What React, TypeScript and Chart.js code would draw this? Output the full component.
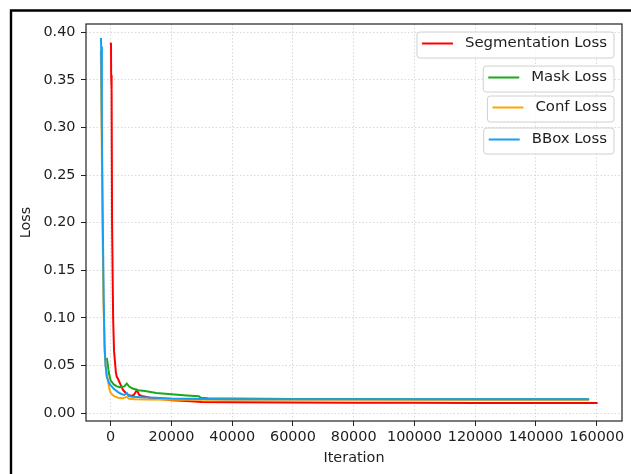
import React, { useEffect, useRef } from 'react';
import { Chart, registerables } from 'chart.js';

Chart.register(...registerables);

// ---- data ----
const xTickValues = [0, 20000, 40000, 60000, 80000, 100000, 120000, 140000, 160000];
const yTickValues = [0, 0.05, 0.1, 0.15, 0.2, 0.25, 0.3, 0.35, 0.4];

const seriesNames = ['Segmentation Loss', 'Mask Loss', 'Conf Loss', 'BBox Loss'];
const seriesColors = ['#ff0000', '#1aa81a', '#ffa500', '#179ef2'];

const segIter = [0, 100, 150, 300, 450, 800, 1100, 1700, 2000, 2400, 3200, 4100, 5000, 5800, 7000, 7600, 8600, 9400, 10200, 13000, 16000, 20000, 25000, 30000, 40000, 60000, 80000, 100000, 120000, 140000, 160300];
const segLoss = [0.389, 0.386, 0.355, 0.34, 0.2, 0.1, 0.065, 0.043, 0.038, 0.036, 0.03, 0.024, 0.021, 0.019, 0.018, 0.019, 0.024, 0.019, 0.018, 0.016, 0.015, 0.0135, 0.0125, 0.0115, 0.0112, 0.011, 0.0108, 0.0107, 0.0106, 0.0105, 0.0105];

const maskIter = [-1300, -1000, -600, 0, 1000, 2000, 3000, 4500, 5300, 6000, 7000, 9000, 11300, 15000, 20000, 25000, 29000, 29700, 32000, 40000, 60000, 80000, 100000, 120000, 140000, 157500];
const maskLoss = [0.058, 0.052, 0.042, 0.034, 0.030, 0.028, 0.027, 0.028, 0.031, 0.028, 0.026, 0.024, 0.023, 0.021, 0.0198, 0.0185, 0.0175, 0.016, 0.0156, 0.0152, 0.0147, 0.0146, 0.0145, 0.0145, 0.0145, 0.0145];

const confIter = [-3250, -3000, -2700, -2400, -2000, -1500, -1000, -500, 0, 1000, 2400, 4000, 5300, 6000, 8000, 12000, 20000, 40000, 60000, 80000, 100000, 120000, 140000, 157500];
const confLoss = [0.38, 0.3, 0.2, 0.12, 0.065, 0.045, 0.036, 0.026, 0.021, 0.018, 0.016, 0.0155, 0.017, 0.015, 0.0145, 0.0142, 0.014, 0.0139, 0.0139, 0.0139, 0.0139, 0.0139, 0.0139, 0.0139];

const bboxIter = [-3200, -3150, -2900, -2600, -2300, -2000, -1700, -1300, -600, 0, 1200, 2400, 3500, 4500, 5300, 5900, 7000, 10000, 15000, 20000, 30000, 40000, 60000, 80000, 100000, 120000, 140000, 157500];
const bboxLoss = [0.394, 0.385, 0.3, 0.2, 0.12, 0.07, 0.05, 0.038, 0.032, 0.029, 0.025, 0.022, 0.02, 0.019, 0.021, 0.018, 0.017, 0.0165, 0.016, 0.0153, 0.0148, 0.0145, 0.0144, 0.0144, 0.0144, 0.0144, 0.0144, 0.0144];

const seriesIters = [segIter, maskIter, confIter, bboxIter];
const seriesLosses = [segLoss, maskLoss, confLoss, bboxLoss];

const FONT = 'DejaVu Sans';
const FS = 14.4;
const LEGEND_FS = 14.9;
const TEXT = '#1e1e1e';

const framePlugin = {
  id: 'framePlugin',
  afterDraw(chart: any) {
    const { ctx, chartArea } = chart;
    const { left, top, right, bottom } = chartArea;
    ctx.save();
    // axes frame
    ctx.strokeStyle = '#222';
    ctx.lineWidth = 1.2;
    ctx.strokeRect(left, top, right - left, bottom - top);

    // outer figure border
    ctx.strokeStyle = '#000';
    ctx.lineWidth = 2.4;
    ctx.beginPath();
    ctx.moveTo(11, 474);
    ctx.lineTo(11, 10.5);
    ctx.lineTo(631, 10.5);
    ctx.stroke();

    // legends (four separate boxes)
    const offsets = [8, 42, 72, 104];
    ctx.font = `${LEGEND_FS}px "${FONT}"`;
    ctx.textBaseline = 'middle';
    seriesNames.forEach((name, i) => {
      const tw = ctx.measureText(name).width;
      const w = 5 + 31 + 12 + tw + 7;
      const h = 26;
      const bx = right - 8 - w;
      const by = top + offsets[i];
      const r = 3;
      ctx.beginPath();
      ctx.moveTo(bx + r, by);
      ctx.lineTo(bx + w - r, by);
      ctx.arcTo(bx + w, by, bx + w, by + r, r);
      ctx.lineTo(bx + w, by + h - r);
      ctx.arcTo(bx + w, by + h, bx + w - r, by + h, r);
      ctx.lineTo(bx + r, by + h);
      ctx.arcTo(bx, by + h, bx, by + h - r, r);
      ctx.lineTo(bx, by + r);
      ctx.arcTo(bx, by, bx + r, by, r);
      ctx.closePath();
      ctx.fillStyle = 'rgba(255,255,255,0.8)';
      ctx.fill();
      ctx.strokeStyle = '#d0d0d0';
      ctx.lineWidth = 1;
      ctx.stroke();

      const cy = by + 11.5;
      ctx.strokeStyle = seriesColors[i];
      ctx.lineWidth = 2;
      ctx.beginPath();
      ctx.moveTo(bx + 5, cy);
      ctx.lineTo(bx + 36, cy);
      ctx.stroke();

      ctx.fillStyle = TEXT;
      ctx.textAlign = 'left';
      ctx.fillText(name, bx + 48, cy);
    });
    ctx.restore();
  },
};

export default function App() {
  const canvasRef = useRef<HTMLCanvasElement | null>(null);

  useEffect(() => {
    const canvas = canvasRef.current;
    if (!canvas) return;

    const order = [3, 2, 1, 0];
    const datasets = seriesNames.map((name, i) => ({
      label: name,
      data: seriesIters[i].map((x, j) => ({ x, y: seriesLosses[i][j] })),
      borderColor: seriesColors[i],
      backgroundColor: seriesColors[i],
      borderWidth: 2,
      pointRadius: 0,
      tension: 0,
      fill: false,
      order: order[i],
    }));

    const chart = new Chart(canvas, {
      type: 'line',
      data: { datasets },
      options: {
        animation: false,
        responsive: false,
        devicePixelRatio: 1,
        layout: { padding: { left: 0, right: 9, top: 24, bottom: 0 } },
        plugins: {
          legend: { display: false },
          tooltip: { enabled: false },
        },
        scales: {
          x: {
            type: 'linear',
            min: -8130,
            max: 168330,
            afterBuildTicks: (scale: any) => {
              scale.ticks = xTickValues.map((v) => ({ value: v }));
            },
            afterFit: (scale: any) => {
              scale.height = 53;
            },
            ticks: {
              callback: (v: any) => String(v),
              color: TEXT,
              font: { family: FONT, size: FS },
              padding: 3,
              maxRotation: 0,
              autoSkip: false,
            },
            grid: {
              color: '#cfcfcf',
              lineWidth: 0.8,
              tickLength: 5,
              tickColor: '#222',
              tickWidth: 1,
            },
            border: { display: false, dash: [1.5, 2] },
            title: {
              display: true,
              text: 'Iteration',
              color: TEXT,
              font: { family: FONT, size: FS },
              padding: { top: 0, bottom: 6.9 },
            },
          },
          y: {
            type: 'linear',
            min: -0.0084,
            max: 0.4087,
            afterBuildTicks: (scale: any) => {
              scale.ticks = yTickValues.map((v) => ({ value: v }));
            },
            afterFit: (scale: any) => {
              scale.width = 86;
            },
            ticks: {
              callback: (v: any) => Number(v).toFixed(2),
              color: TEXT,
              font: { family: FONT, size: FS },
              padding: 5.5,
              autoSkip: false,
            },
            grid: {
              color: '#cfcfcf',
              lineWidth: 0.8,
              tickLength: 5,
              tickColor: '#222',
              tickWidth: 1,
            },
            border: { display: false, dash: [1.5, 2] },
            title: {
              display: true,
              text: 'Loss',
              color: TEXT,
              font: { family: FONT, size: FS },
              padding: { top: 17.4, bottom: 0 },
            },
          },
        },
      },
      plugins: [framePlugin],
    });

    return () => chart.destroy();
  }, []);

  return (
    <div style={{ position: 'absolute', left: 0, top: 0, width: 631, height: 474, background: '#fff' }}>
      <canvas ref={canvasRef} width={631} height={474} style={{ display: 'block', width: 631, height: 474 }} />
    </div>
  );
}
